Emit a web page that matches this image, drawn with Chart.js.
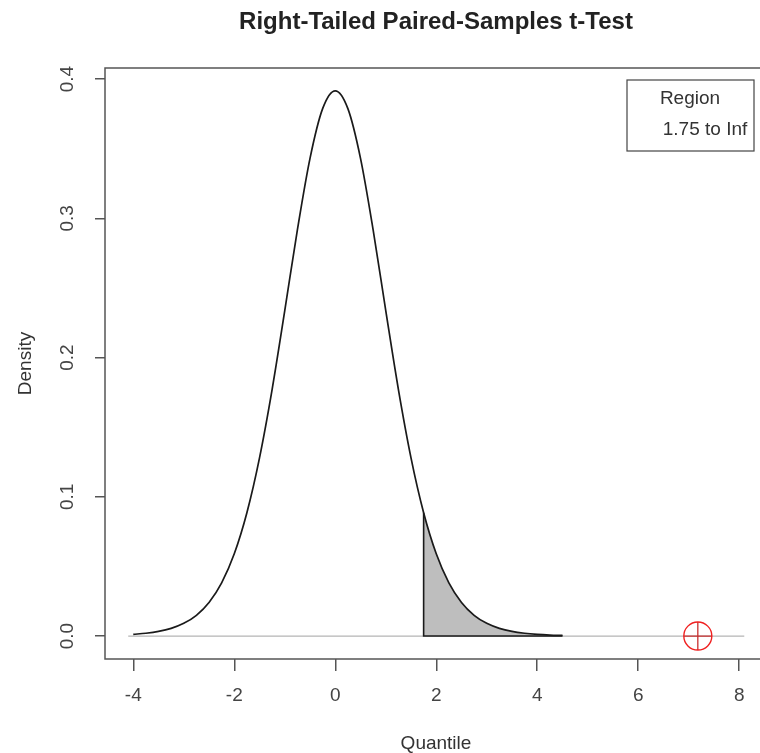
<!DOCTYPE html>
<html>
<head>
<meta charset="utf-8">
<title>Right-Tailed Paired-Samples t-Test</title>
<script src="https://cdn.jsdelivr.net/npm/chart.js@4.4.0/dist/chart.umd.min.js"></script>
<style>
  html, body { margin: 0; padding: 0; background: #fff; overflow: hidden; }
  #wrap { width: 872px; height: 760px; }
</style>
</head>
<body>
<div id="wrap"><canvas id="tChart" width="872" height="760"></canvas></div>
<script>
// density curve
const quantiles = [-4, -3.75, -3.5, -3.25, -3, -2.75, -2.5, -2.25, -2, -1.75, -1.5, -1.25, -1, -0.75, -0.5, -0.25,
                   0, 0.25, 0.5, 0.75, 1, 1.25, 1.5, 1.75, 2, 2.25, 2.5, 2.75, 3, 3.25, 3.5, 3.75, 4, 4.25, 4.5];
const density = [0.0012, 0.0020, 0.0033, 0.0055, 0.0091, 0.0149, 0.0241, 0.0382, 0.0591, 0.0886, 0.1280, 0.1772,
                 0.2337, 0.2917, 0.3431, 0.3788, 0.3916, 0.3788, 0.3431, 0.2917, 0.2337, 0.1772, 0.1280, 0.0886,
                 0.0591, 0.0382, 0.0241, 0.0149, 0.0091, 0.0055, 0.0033, 0.0020, 0.0012, 0.0007, 0.0004];
const critical = 1.75;
const baselineRange = [-4.1, 8.1];
const testStat = 7.18;

const xTicks = [-4, -2, 0, 2, 4, 6, 8];
const yTicks = [0, 0.1, 0.2, 0.3, 0.4];
const yTickLabels = ['0.0', '0.1', '0.2', '0.3', '0.4'];
const chartTitle = 'Right-Tailed Paired-Samples t-Test';
const legendTitle = 'Region';
const legendText = '1.75 to Inf';

const FONT = '"Liberation Sans", Arial, sans-serif';

const curve = quantiles.map((q, i) => ({x: q, y: density[i]}));
const tail = curve.filter(p => p.x >= critical);
const tailEnd = tail[tail.length - 1].x;

// box, title over the plot centre, turned y labels and the legend, drawn the way R does
const frame = {
    id: 'frame',
    afterDraw(chart) {
        const {ctx, chartArea: a, scales: {y}} = chart;
        ctx.save();
        ctx.strokeStyle = '#555';
        ctx.lineWidth = 1.5;
        ctx.strokeRect(a.left, a.top, a.right - a.left, a.bottom - a.top);

        ctx.fillStyle = '#222';
        ctx.font = 'bold 24px ' + FONT;
        ctx.textAlign = 'center';
        ctx.textBaseline = 'alphabetic';
        ctx.fillText(chartTitle, (a.left + a.right) / 2, 29);

        ctx.fillStyle = '#444';
        ctx.font = '19px ' + FONT;
        ctx.textBaseline = 'middle';
        yTicks.forEach((v, i) => {
            ctx.save();
            ctx.translate(a.left - 37, y.getPixelForValue(v));
            ctx.rotate(-Math.PI / 2);
            ctx.fillText(yTickLabels[i], 0, 0);
            ctx.restore();
        });

        // legend
        ctx.strokeStyle = '#444';
        ctx.lineWidth = 1.2;
        ctx.strokeRect(627, 80, 127, 71);
        ctx.fillStyle = '#333';
        ctx.fillText(legendTitle, 690, 99);
        ctx.fillText(legendText, 705, 130);
        ctx.restore();
    }
};

const ctx = document.getElementById('tChart').getContext('2d');
new Chart(ctx, {
    type: 'scatter',
    data: {
        datasets: [
            {   // test statistic
                data: [{x: testStat, y: 0}],
                pointStyle: 'circle', pointRadius: 14, pointBorderColor: '#f02020', pointBorderWidth: 1.4,
                pointBackgroundColor: 'rgba(0,0,0,0)', showLine: false, order: 0
            },
            {
                data: [{x: testStat, y: 0}],
                pointStyle: 'cross', pointRadius: 14, pointBorderColor: '#c83030', pointBorderWidth: 1.3,
                showLine: false, order: 1
            },
            {   // main curve
                data: curve, showLine: true, borderColor: '#1a1a1a', borderWidth: 1.7,
                pointRadius: 0, cubicInterpolationMode: 'monotone', fill: false, order: 2
            },
            {   // edge of the shaded region
                data: [{x: tailEnd, y: 0}, {x: critical, y: 0}, {x: critical, y: tail[0].y}],
                showLine: true, borderColor: '#1a1a1a', borderWidth: 1.6, pointRadius: 0, tension: 0, order: 3
            },
            {   // shaded tail
                data: tail, showLine: true, borderWidth: 0, borderColor: 'rgba(0,0,0,0)',
                backgroundColor: '#bebebe', fill: 'origin', pointRadius: 0,
                cubicInterpolationMode: 'monotone', order: 4
            },
            {   // zero line
                data: baselineRange.map(x => ({x: x, y: 0})),
                showLine: true, borderColor: '#b5b5b5', borderWidth: 1.2, pointRadius: 0, order: 5
            }
        ]
    },
    options: {
        responsive: false,
        animation: false,
        devicePixelRatio: 1,
        layout: { padding: { left: 0, right: 105, top: 68, bottom: 0 } },
        plugins: {
            legend: { display: false },
            tooltip: { enabled: false },
            title: { display: false }
        },
        scales: {
            x: {
                type: 'linear',
                min: -4.56,
                max: 8.55,
                afterBuildTicks: s => { s.ticks = xTicks.map(v => ({value: v})); },
                afterFit: s => { s.height = 101; },
                grid: { drawOnChartArea: false, drawTicks: true, tickLength: 12, color: '#555', lineWidth: 1.5 },
                border: { display: false },
                ticks: { color: '#444', padding: 13, font: { family: FONT, size: 19 } },
                title: {
                    display: true, text: 'Quantile', color: '#333',
                    font: { family: FONT, size: 19 }, padding: { top: 0, bottom: 5 }
                }
            },
            y: {
                type: 'linear',
                min: -0.0165,
                max: 0.408,
                afterBuildTicks: s => { s.ticks = yTicks.map(v => ({value: v})); },
                afterFit: s => { s.width = 105; },
                grid: { drawOnChartArea: false, drawTicks: true, tickLength: 10, color: '#555', lineWidth: 1.5 },
                border: { display: false },
                ticks: { display: false },
                title: {
                    display: true, text: 'Density', color: '#333',
                    font: { family: FONT, size: 19 }, padding: { top: 14.6, bottom: 0 }
                }
            }
        }
    },
    plugins: [frame]
});
</script>
</body>
</html>
